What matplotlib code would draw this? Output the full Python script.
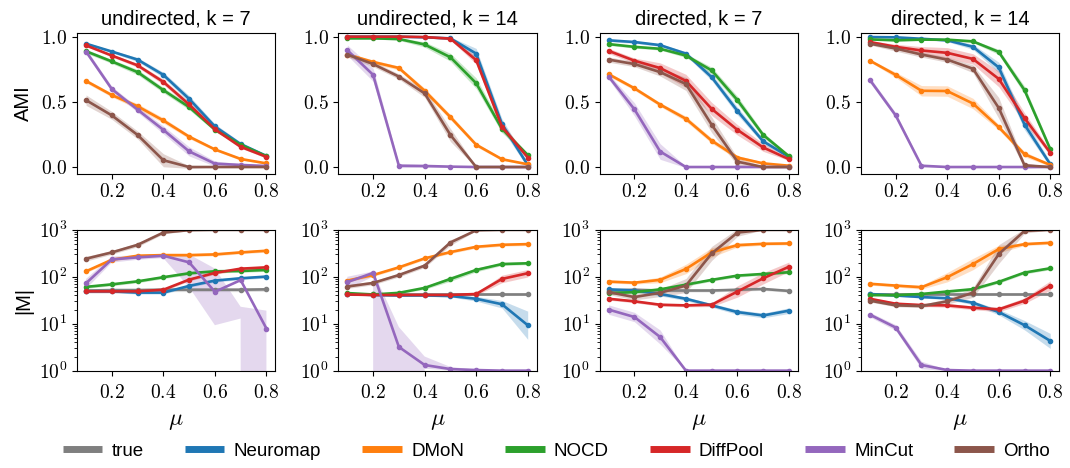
import numpy as np
import matplotlib.pyplot as plt
from matplotlib.lines import Line2D
from matplotlib.ticker import FuncFormatter, LogLocator, NullFormatter

plt.rcParams['font.family'] = ['Liberation Sans', 'DejaVu Sans']
plt.rcParams['mathtext.fontset'] = 'cm'

mu = [0.1, 0.2, 0.3, 0.4, 0.5, 0.6, 0.7, 0.8]
methods = ['true', 'Neuromap', 'DMoN', 'NOCD', 'DiffPool', 'MinCut', 'Ortho']
colors = ['#7f7f7f', '#1f77b4', '#ff7f0e', '#2ca02c', '#d62728', '#9467bd', '#8c564b']
titles = ['undirected, k = 7', 'undirected, k = 14', 'directed, k = 7', 'directed, k = 14']

# ---- AMI (top row) ----
ami_und7 = {
    'Neuromap': [0.946, 0.886, 0.824, 0.707, 0.523, 0.311, 0.176, 0.085],
    'DMoN':     [0.660, 0.552, 0.466, 0.357, 0.233, 0.135, 0.062, 0.028],
    'NOCD':     [0.888, 0.810, 0.728, 0.590, 0.460, 0.287, 0.171, 0.083],
    'DiffPool': [0.933, 0.855, 0.780, 0.653, 0.480, 0.290, 0.155, 0.078],
    'MinCut':   [0.886, 0.598, 0.440, 0.285, 0.120, 0.026, 0.016, 0.008],
    'Ortho':    [0.513, 0.396, 0.246, 0.052, 0.0, 0.0, 0.0, 0.0],
}
ami_und14 = {
    'Neuromap': [1.0, 1.0, 1.0, 0.995, 0.987, 0.870, 0.330, 0.016],
    'DMoN':     [0.863, 0.806, 0.760, 0.585, 0.383, 0.171, 0.060, 0.021],
    'NOCD':     [0.987, 0.987, 0.982, 0.940, 0.842, 0.643, 0.293, 0.093],
    'DiffPool': [1.0, 1.0, 1.0, 0.997, 0.985, 0.820, 0.310, 0.073],
    'MinCut':   [0.896, 0.707, 0.010, 0.008, 0.003, 0.0, 0.0, 0.0],
    'Ortho':    [0.863, 0.790, 0.694, 0.565, 0.246, 0.0, 0.0, 0.0],
}
ami_dir7 = {
    'Neuromap': [0.972, 0.959, 0.935, 0.870, 0.689, 0.430, 0.197, 0.078],
    'DMoN':     [0.712, 0.604, 0.479, 0.370, 0.202, 0.073, 0.028, 0.010],
    'NOCD':     [0.943, 0.922, 0.907, 0.855, 0.741, 0.513, 0.246, 0.083],
    'DiffPool': [0.891, 0.816, 0.759, 0.661, 0.446, 0.285, 0.150, 0.060],
    'MinCut':   [0.694, 0.443, 0.119, 0.0, 0.0, 0.0, 0.0, 0.0],
    'Ortho':    [0.824, 0.790, 0.728, 0.637, 0.324, 0.041, 0.0, 0.0],
}
ami_dir14 = {
    'Neuromap': [0.997, 0.995, 0.984, 0.972, 0.922, 0.764, 0.326, 0.021],
    'DMoN':     [0.816, 0.707, 0.585, 0.583, 0.487, 0.306, 0.098, 0.016],
    'NOCD':     [0.979, 0.972, 0.977, 0.977, 0.964, 0.883, 0.590, 0.137],
    'DiffPool': [0.959, 0.922, 0.894, 0.876, 0.829, 0.676, 0.376, 0.109],
    'MinCut':   [0.668, 0.396, 0.010, 0.0, 0.0, 0.0, 0.0, 0.0],
    'Ortho':    [0.946, 0.909, 0.863, 0.824, 0.754, 0.453, 0.013, 0.0],
}

# half-widths of the shaded bands (AMI units)
ami_band_und7 = {
    'Neuromap': [0.01, 0.01, 0.015, 0.02, 0.025, 0.02, 0.015, 0.01],
    'DMoN':     [0.015, 0.015, 0.02, 0.02, 0.015, 0.01, 0.01, 0.005],
    'NOCD':     [0.015, 0.015, 0.02, 0.02, 0.02, 0.015, 0.01, 0.01],
    'DiffPool': [0.01, 0.01, 0.015, 0.02, 0.02, 0.015, 0.01, 0.01],
    'MinCut':   [0.02, 0.02, 0.02, 0.03, 0.035, 0.02, 0.01, 0.005],
    'Ortho':    [0.04, 0.03, 0.03, 0.05, 0.01, 0.0, 0.0, 0.0],
}
ami_band_und14 = {
    'Neuromap': [0.0, 0.0, 0.0, 0.005, 0.01, 0.04, 0.04, 0.02],
    'DMoN':     [0.015, 0.015, 0.015, 0.02, 0.02, 0.015, 0.01, 0.005],
    'NOCD':     [0.005, 0.005, 0.01, 0.02, 0.03, 0.04, 0.03, 0.01],
    'DiffPool': [0.0, 0.0, 0.0, 0.005, 0.01, 0.03, 0.03, 0.01],
    'MinCut':   [0.04, 0.05, 0.015, 0.01, 0.005, 0.0, 0.0, 0.0],
    'Ortho':    [0.02, 0.02, 0.02, 0.03, 0.05, 0.005, 0.0, 0.0],
}
ami_band_dir7 = {
    'Neuromap': [0.01, 0.01, 0.01, 0.015, 0.025, 0.03, 0.02, 0.01],
    'DMoN':     [0.015, 0.015, 0.015, 0.02, 0.02, 0.015, 0.01, 0.005],
    'NOCD':     [0.01, 0.01, 0.01, 0.015, 0.025, 0.03, 0.02, 0.01],
    'DiffPool': [0.02, 0.02, 0.04, 0.05, 0.05, 0.04, 0.03, 0.01],
    'MinCut':   [0.02, 0.05, 0.06, 0.005, 0.0, 0.0, 0.0, 0.0],
    'Ortho':    [0.02, 0.02, 0.03, 0.05, 0.06, 0.03, 0.005, 0.0],
}
ami_band_dir14 = {
    'Neuromap': [0.005, 0.005, 0.005, 0.01, 0.02, 0.04, 0.04, 0.02],
    'DMoN':     [0.01, 0.02, 0.04, 0.04, 0.04, 0.02, 0.02, 0.01],
    'NOCD':     [0.005, 0.005, 0.005, 0.01, 0.01, 0.02, 0.03, 0.02],
    'DiffPool': [0.01, 0.02, 0.03, 0.04, 0.04, 0.06, 0.04, 0.02],
    'MinCut':   [0.02, 0.02, 0.01, 0.0, 0.0, 0.0, 0.0, 0.0],
    'Ortho':    [0.01, 0.02, 0.02, 0.02, 0.03, 0.08, 0.02, 0.0],
}

# ---- number of modules |M| (bottom row) ----
size_und7 = {
    'true':     [51, 52, 52, 53, 53, 53, 53, 54],
    'Neuromap': [49, 49, 46, 46, 64, 83, 93, 101],
    'DMoN':     [131, 231, 281, 290, 290, 300, 331, 359],
    'NOCD':     [61, 69, 80, 98, 119, 131, 133, 140],
    'DiffPool': [49, 49, 49, 53, 87, 121, 149, 159],
    'MinCut':   [73, 235, 259, 281, 203, 48, 85, 7.9],
    'Ortho':    [243, 331, 480, 877, 985, 1000, 1000, 1000],
}
size_und14 = {
    'true':     [42, 42, 42, 42, 42, 42, 42, 42],
    'Neuromap': [43, 41, 40, 40, 39, 34, 26, 9.3],
    'DMoN':     [83, 109, 159, 247, 336, 436, 481, 497],
    'NOCD':     [45, 42, 45.5, 58, 90, 140, 187, 194],
    'DiffPool': [42, 41, 41, 41, 41, 43, 90, 119],
    'MinCut':   [77, 121, 3.2, 1.32, 1.08, 1.03, 1.0, 1.0],
    'Ortho':    [62, 74, 109, 173, 538, 980, 1000, 1000],
}
size_dir7 = {
    'true':     [51, 53, 51, 51, 51, 53, 55, 50],
    'Neuromap': [54, 51, 43, 34, 24.6, 17.7, 15, 19],
    'DMoN':     [79, 75, 86, 147, 331, 473, 505, 513],
    'NOCD':     [45, 47, 54, 68, 86, 106, 115, 125],
    'DiffPool': [34, 30, 25.4, 24.6, 25.4, 48.6, 93, 164],
    'MinCut':   [20, 13.9, 5.2, 1.0, 1.0, 1.0, 1.0, 1.0],
    'Ortho':    [47, 37, 45.5, 65, 315, 877, 1000, 1000],
}
size_dir14 = {
    'true':     [42.7, 42.7, 42.7, 42.7, 42.7, 42.7, 42.7, 42.7],
    'Neuromap': [43, 40, 37, 35, 28, 17.7, 9.3, 4.3],
    'DMoN':     [71, 65, 60, 98, 187, 389, 497, 530],
    'NOCD':     [41, 40.6, 43, 48.6, 54.5, 78, 123, 152],
    'DiffPool': [34, 26.7, 25, 24.6, 21.9, 20.2, 31, 65],
    'MinCut':   [15.6, 8.3, 1.32, 1.03, 1.0, 1.0, 1.0, 1.0],
    'Ortho':    [31, 24.6, 23.8, 30, 46, 305, 950, 1000],
}

# half-widths of the shaded bands (decades); MinCut bands of the undirected panels given as bounds
size_band_und7 = {
    'true':     [0.04, 0.04, 0.04, 0.04, 0.04, 0.04, 0.04, 0.04],
    'Ortho':    [0.05, 0.04, 0.04, 0.03, 0.01, 0.0, 0.0, 0.0],
}
size_band_und14 = {
    'true':     [0.04, 0.04, 0.04, 0.04, 0.04, 0.04, 0.04, 0.04],
    'Neuromap': [0.02, 0.02, 0.02, 0.02, 0.02, 0.05, 0.08, 0.3],
    'NOCD':     [0.02, 0.02, 0.02, 0.03, 0.05, 0.04, 0.03, 0.03],
    'DiffPool': [0.02, 0.02, 0.02, 0.02, 0.02, 0.03, 0.08, 0.08],
    'Ortho':    [0.04, 0.04, 0.04, 0.04, 0.06, 0.01, 0.0, 0.0],
}
size_band_dir7 = {
    'true':     [0.03, 0.03, 0.03, 0.03, 0.03, 0.03, 0.03, 0.03],
    'Neuromap': [0.04, 0.04, 0.04, 0.04, 0.04, 0.05, 0.05, 0.06],
    'DMoN':     [0.03, 0.03, 0.06, 0.1, 0.1, 0.04, 0.03, 0.03],
    'DiffPool': [0.03, 0.03, 0.03, 0.03, 0.04, 0.12, 0.12, 0.1],
    'MinCut':   [0.1, 0.1, 0.15, 0.0, 0.0, 0.0, 0.0, 0.0],
    'Ortho':    [0.05, 0.06, 0.08, 0.15, 0.15, 0.08, 0.0, 0.0],
}
size_band_dir14 = {
    'true':     [0.03, 0.03, 0.03, 0.03, 0.03, 0.03, 0.03, 0.03],
    'Neuromap': [0.02, 0.02, 0.02, 0.03, 0.04, 0.06, 0.1, 0.16],
    'DMoN':     [0.03, 0.03, 0.04, 0.1, 0.12, 0.08, 0.03, 0.03],
    'DiffPool': [0.03, 0.03, 0.03, 0.04, 0.04, 0.05, 0.06, 0.1],
    'MinCut':   [0.05, 0.06, 0.08, 0.01, 0.0, 0.0, 0.0, 0.0],
    'Ortho':    [0.03, 0.03, 0.03, 0.06, 0.1, 0.2, 0.05, 0.0],
}
mincut_lo_und7 = [55, 200, 230, 250, 60, 9.3, 12.9, 0]
mincut_hi_und7 = [90, 270, 290, 300, 300, 150, 23, 19]
mincut_lo_und14 = [55, 100, 0, 1.1, 1.0, 1.0, 1.0, 1.0]
mincut_hi_und14 = [100, 130, 8.5, 2.0, 1.2, 1.05, 1.0, 1.0]

ami_panels = [(ami_und7, ami_band_und7), (ami_und14, ami_band_und14),
              (ami_dir7, ami_band_dir7), (ami_dir14, ami_band_dir14)]
size_panels = [(size_und7, size_band_und7), (size_und14, size_band_und14),
               (size_dir7, size_band_dir7), (size_dir14, size_band_dir14)]
mincut_bounds = [(mincut_lo_und7, mincut_hi_und7), (mincut_lo_und14, mincut_hi_und14), None, None]

fig, axes = plt.subplots(2, 4, figsize=(10.7, 4.68), dpi=100)
fig.subplots_adjust(left=0.072, right=0.99, top=0.93, bottom=0.208, wspace=0.317, hspace=0.4)

x = np.array(mu)
dec_fmt = FuncFormatter(lambda v, p: f'${v:.1f}$')
log_fmt = FuncFormatter(lambda v, p: f'$10^{{{int(round(np.log10(v)))}}}$')

for j in range(4):
    ax = axes[0, j]
    vals, bands = ami_panels[j]
    for m, c in zip(methods, colors):
        if m not in vals:
            continue
        y = np.array(vals[m])
        b = np.array(bands.get(m, [0.01] * len(mu)))
        ax.fill_between(x, y - b, y + b, color=c, alpha=0.25, lw=0)
        ax.plot(x, y, color=c, lw=1.9, marker='o', ms=3)
    ax.set_ylim(-0.05, 1.03)
    ax.set_yticks([0.0, 0.5, 1.0])
    ax.set_xticks([0.2, 0.4, 0.6, 0.8])
    ax.xaxis.set_major_formatter(dec_fmt)
    ax.yaxis.set_major_formatter(dec_fmt)
    ax.set_title(titles[j], fontsize=14.5)
    ax.tick_params(labelsize=14)

    ax = axes[1, j]
    vals, bands = size_panels[j]
    for m, c in zip(methods, colors):
        y = np.array(vals[m])
        if m == 'MinCut' and mincut_bounds[j] is not None:
            lo, hi = np.array(mincut_bounds[j][0], float), np.array(mincut_bounds[j][1], float)
        else:
            b = np.array(bands.get(m, [0.03] * len(mu)))
            lo, hi = y / 10 ** b, y * 10 ** b
        ax.fill_between(x, lo, hi, color=c, alpha=0.25, lw=0)
        ax.plot(x, y, color=c, lw=1.9, marker='o', ms=3)
    ax.set_yscale('log')
    ax.set_ylim(1, 1000)
    ax.yaxis.set_major_locator(LogLocator(base=10))
    ax.yaxis.set_minor_locator(LogLocator(base=10, subs=np.arange(2, 10)))
    ax.yaxis.set_major_formatter(log_fmt)
    ax.yaxis.set_minor_formatter(NullFormatter())
    ax.set_xticks([0.2, 0.4, 0.6, 0.8])
    ax.xaxis.set_major_formatter(dec_fmt)
    ax.tick_params(labelsize=14)
    ax.tick_params(axis='x', pad=6)
    ax.set_xlabel(r'$\mu$', fontsize=17, labelpad=6)

axes[0, 0].set_ylabel('AMI', fontsize=14.5)
axes[1, 0].set_ylabel('|M|', fontsize=14.5)
fig.align_ylabels(axes[:, 0])

handles = [Line2D([], [], color=c, lw=5, solid_capstyle='butt') for c in colors]
fig.legend(handles, methods, loc='center', bbox_to_anchor=(0.52, 0.036), ncol=7,
           frameon=False, fontsize=13.5, handlelength=2.1, handletextpad=0.5, columnspacing=2.2)

fig.savefig('out.png', dpi=100)
